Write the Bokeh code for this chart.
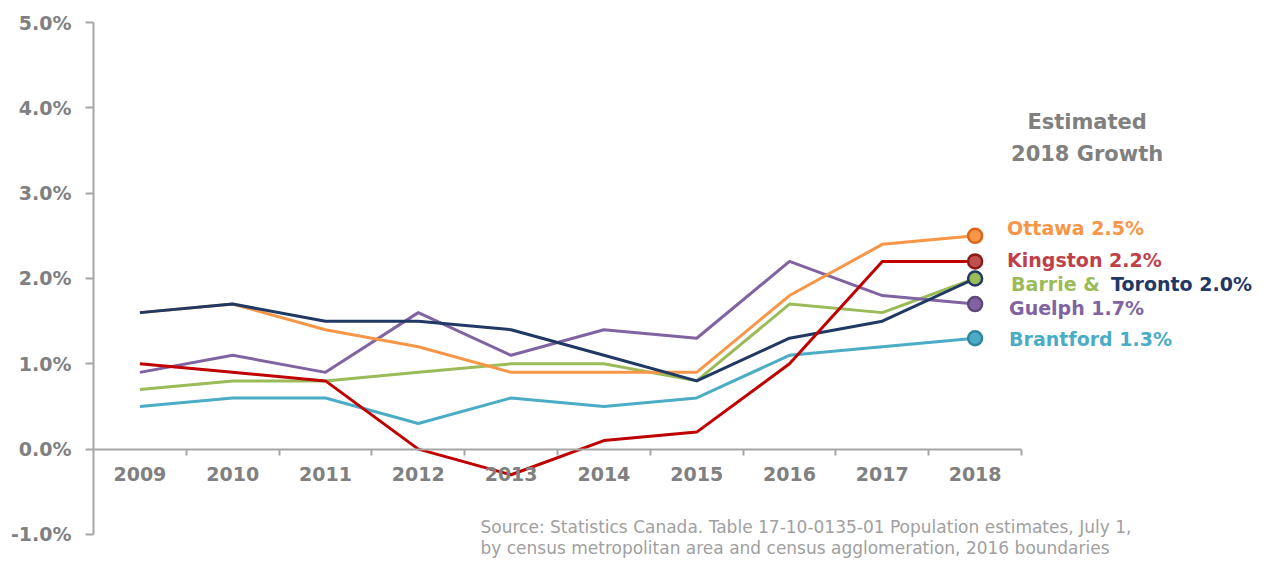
from bokeh.plotting import figure
from bokeh.models import FixedTicker, PrintfTickFormatter, Label
from bokeh.embed import file_html
from bokeh.resources import INLINE

years = [2009, 2010, 2011, 2012, 2013, 2014, 2015, 2016, 2017, 2018]
ottawa = [1.6, 1.7, 1.4, 1.2, 0.9, 0.9, 0.9, 1.8, 2.4, 2.5]
kingston = [1.0, 0.9, 0.8, 0.0, -0.3, 0.1, 0.2, 1.0, 2.2, 2.2]
barrie = [0.7, 0.8, 0.8, 0.9, 1.0, 1.0, 0.8, 1.7, 1.6, 2.0]
toronto = [1.6, 1.7, 1.5, 1.5, 1.4, 1.1, 0.8, 1.3, 1.5, 2.0]
guelph = [0.9, 1.1, 0.9, 1.6, 1.1, 1.4, 1.3, 2.2, 1.8, 1.7]
brantford = [0.5, 0.6, 0.6, 0.3, 0.6, 0.5, 0.6, 1.1, 1.2, 1.3]
y_ticks = [-1, 0, 1, 2, 3, 4, 5]
title_lines = ["Estimated", "2018 Growth"]
source_lines = [
    "Source: Statistics Canada. Table 17-10-0135-01  Population estimates, July 1,",
    "by census metropolitan area and census agglomeration, 2016 boundaries",
]

C_OTT, C_KIN, C_BAR, C_TOR, C_GUE, C_BRA = "#F79646", "#C00000", "#9BBB59", "#1F3864", "#8064A2", "#4BACC6"
GRAY = "#808080"
FONT = "DejaVu Sans"

W, H = 1265, 566
LEFT, TOP = 93, 22
PX_YEAR, PX_PCT = 92.8, 85.33
x0 = years[0] - 0.5
x1 = x0 + (W - LEFT) / PX_YEAR
y_top = y_ticks[-1]
y_bot = y_top - (H - TOP) / PX_PCT

p = figure(width=W, height=H, x_range=(x0, x1), y_range=(y_bot, y_top),
           output_backend="svg", toolbar_location=None,
           min_border_left=LEFT, min_border_right=0, min_border_top=TOP, min_border_bottom=0)
p.outline_line_color = None
p.grid.visible = False
p.background_fill_color = "white"
p.border_fill_color = "white"

# y axis
yax = p.yaxis[0]
yax.bounds = (y_ticks[0], y_ticks[-1])
yax.ticker = FixedTicker(ticks=y_ticks, minor_ticks=[])
yax.formatter = PrintfTickFormatter(format="%.1f%%")
yax.axis_line_color = "#A6A6A6"
yax.axis_line_width = 2
yax.major_tick_line_color = "#A6A6A6"
yax.major_tick_line_width = 2
yax.major_tick_out = 8
yax.major_tick_in = 0
yax.minor_tick_line_color = None
yax.major_label_standoff = 14
yax.major_label_text_font = FONT
yax.major_label_text_font_style = "bold"
yax.major_label_text_font_size = "19px"
yax.major_label_text_color = GRAY

# x axis at zero
xax = p.xaxis[0]
xax.fixed_location = 0
xax.bounds = (years[0] - 0.5, years[-1] + 0.5)
bounds = [y + 0.5 for y in years]
xax.ticker = FixedTicker(ticks=years, minor_ticks=bounds)
xax.axis_line_color = "#A6A6A6"
xax.axis_line_width = 2
xax.major_tick_line_color = None
xax.major_tick_out = 0
xax.major_tick_in = 0
xax.minor_tick_line_color = "#A6A6A6"
xax.minor_tick_line_width = 2
xax.minor_tick_out = 6
xax.minor_tick_in = 0
xax.major_label_standoff = 12
xax.major_label_text_font = FONT
xax.major_label_text_font_style = "bold"
xax.major_label_text_font_size = "19px"
xax.major_label_text_color = GRAY

series = [
    ("Brantford", brantford, C_BRA, C_BRA, "#31859C"),
    ("Barrie", barrie, C_BAR, C_BAR, C_TOR),
    ("Guelph", guelph, C_GUE, C_GUE, "#5F497A"),
    ("Ottawa", ottawa, C_OTT, C_OTT, "#D9661A"),
    ("Toronto", toronto, C_TOR, C_TOR, C_TOR),
    ("Kingston", kingston, C_KIN, "#C0504D", "#8B1A1A"),
]
for name, vals, col, _, _ in series:
    p.line(years, vals, line_color=col, line_width=3)
for name, vals, col, fill, edge in series:
    if name == "Toronto":
        continue
    p.scatter([years[-1]], [vals[-1]], size=14, fill_color=fill, line_color=edge, line_width=2.5)

lab_style = dict(text_font=FONT, text_font_style="bold", text_font_size="19px", text_baseline="middle")
p.add_layout(Label(x=years[-1], y=ottawa[-1], x_offset=32, y_offset=8,
                   text="Ottawa %.1f%%" % ottawa[-1], text_color=C_OTT, **lab_style))
p.add_layout(Label(x=years[-1], y=kingston[-1], x_offset=32, y_offset=1,
                   text="Kingston %.1f%%" % kingston[-1], text_color="#C0404A", **lab_style))
p.add_layout(Label(x=years[-1], y=barrie[-1], x_offset=36, y_offset=-6,
                   text="Barrie &", text_color=C_BAR, **lab_style))
p.add_layout(Label(x=years[-1], y=toronto[-1], x_offset=136, y_offset=-6,
                   text="Toronto %.1f%%" % toronto[-1], text_color=C_TOR, **lab_style))
p.add_layout(Label(x=years[-1], y=guelph[-1], x_offset=34, y_offset=-4,
                   text="Guelph %.1f%%" % guelph[-1], text_color=C_GUE, **lab_style))
p.add_layout(Label(x=years[-1], y=brantford[-1], x_offset=34, y_offset=-1,
                   text="Brantford %.1f%%" % brantford[-1], text_color=C_BRA, **lab_style))

title_style = dict(text_font=FONT, text_font_style="bold", text_font_size="21px",
                   text_baseline="middle", text_align="center", text_color=GRAY)
p.add_layout(Label(x=years[-1], y=4.0, x_offset=112, y_offset=-14, text=title_lines[0], **title_style))
p.add_layout(Label(x=years[-1], y=4.0, x_offset=112, y_offset=-46, text=title_lines[1], **title_style))

src_style = dict(text_font=FONT, text_font_size="17px", text_baseline="middle", text_color="#A0A0A0")
p.add_layout(Label(x=x0, y=-1, x_offset=387, y_offset=7, text=source_lines[0], **src_style))
p.add_layout(Label(x=x0, y=-1, x_offset=387, y_offset=-14, text=source_lines[1], **src_style))

open("out.html", "w").write(file_html(p, INLINE))
